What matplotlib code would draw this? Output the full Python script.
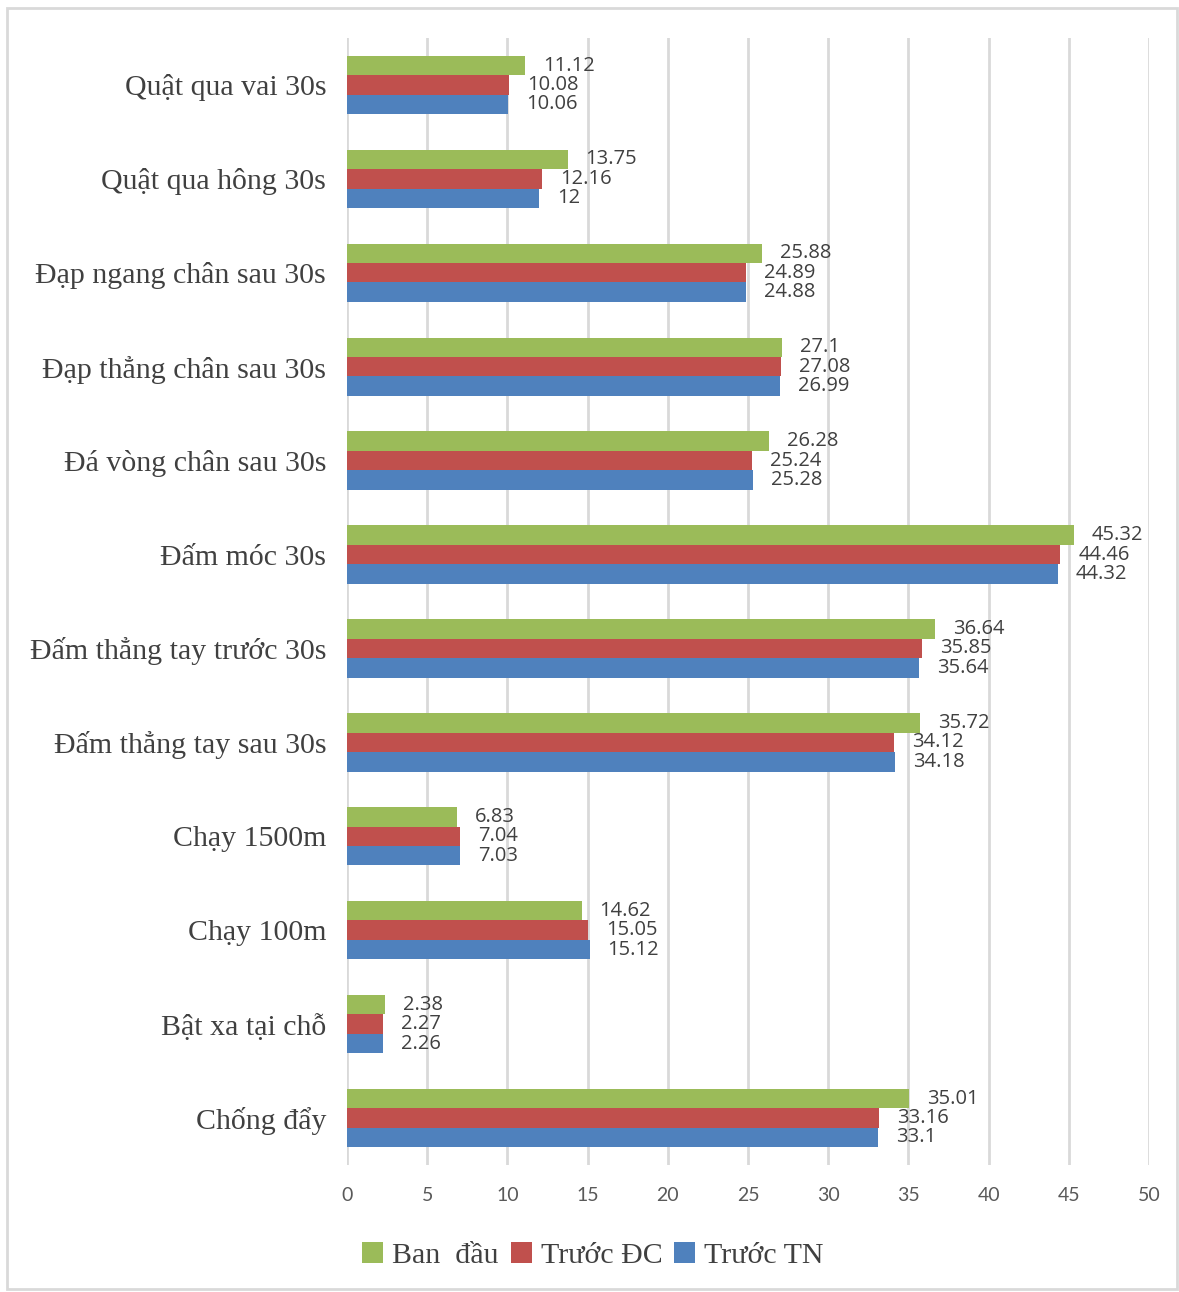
import matplotlib
matplotlib.use('Agg')
from matplotlib import pyplot as plt
from matplotlib.patches import Rectangle
import numpy as np

categories = [
    'Quật qua vai 30s', 'Quật qua hông 30s', 'Đạp ngang chân sau 30s',
    'Đạp thẳng chân sau 30s', 'Đá vòng chân sau 30s', 'Đấm móc 30s',
    'Đấm thẳng tay trước 30s', 'Đấm thẳng tay sau 30s', 'Chạy 1500m',
    'Chạy 100m', 'Bật xa tại chỗ', 'Chống đẩy',
]
ban_dau = [11.12, 13.75, 25.88, 27.1, 26.28, 45.32, 36.64, 35.72, 6.83, 14.62, 2.38, 35.01]
truoc_dc = [10.08, 12.16, 24.89, 27.08, 25.24, 44.46, 35.85, 34.12, 7.04, 15.05, 2.27, 33.16]
truoc_tn = [10.06, 12, 24.88, 26.99, 25.28, 44.32, 35.64, 34.18, 7.03, 15.12, 2.26, 33.1]
series_names = ['Ban  đầu', 'Trước ĐC', 'Trước TN']
x_ticks = list(range(0, 51, 5))

colors = ['#9BBB59', '#C0504D', '#4F81BD']

fig = plt.figure(figsize=(11.79, 12.92), dpi=100)
ax = fig.add_axes([0.2943, 0.0983, 0.6803, 0.8723])

# outer frame like the exported chart
fig.patches.append(Rectangle((0.006, 0.002), 0.992, 0.992, transform=fig.transFigure,
                             fill=False, edgecolor='#d9d9d9', linewidth=2))

y = np.arange(len(categories))
h = 0.207
series = [ban_dau, truoc_dc, truoc_tn]
for i, (vals, c, name) in enumerate(zip(series, colors, series_names)):
    pos = y + (i - 1) * h
    bars = ax.barh(pos, vals, height=h, color=c, label=name, zorder=3)
    for b, v in zip(bars, vals):
        ax.annotate(f'{v:g}', (v, b.get_y() + h / 2), xytext=(18, 0),
                    textcoords='offset pixels',
                    va='center', ha='left', fontsize=14.5, color='#404040',
                    family='Open Sans')

ax.set_ylim(len(categories) - 0.5, -0.5)
ax.set_xlim(0, 50)
ax.set_xticks(x_ticks)
ax.set_yticks(y)
ax.set_yticklabels(categories, family='Liberation Serif', fontsize=21.5, color='#404040')
ax.tick_params(axis='y', length=0, pad=15)
ax.tick_params(axis='x', length=0, pad=16, labelsize=14, labelcolor='#595959')
for lab in ax.get_xticklabels():
    lab.set_family('Lato')
ax.grid(True, axis='x', color='#d9d9d9', linewidth=2, zorder=0)
for s in ax.spines.values():
    s.set_visible(False)

fig.legend(loc='center', bbox_to_anchor=(0.503, 0.0286), ncol=3, frameon=False,
           prop={'family': 'Liberation Serif', 'size': 21.5}, handlelength=0.7,
           handleheight=0.7, handletextpad=0.3, columnspacing=0.4, labelcolor='#404040')

plt.savefig('out.png', dpi=100)
plt.close()
